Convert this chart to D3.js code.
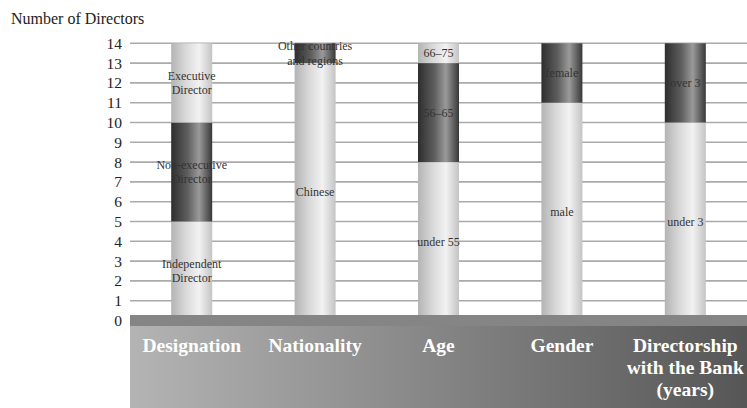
<!DOCTYPE html>
<html lang="en">
<head>
    <meta charset="UTF-8">
    <title>Number of Directors</title>
    <script src="https://d3js.org/d3.v7.min.js"></script>
    <style>
        body { margin: 0; background: #fff; }
        text { font-family: "Liberation Serif", "Times New Roman", serif; }
        .seg-label { font-size: 12px; fill: #333; text-anchor: middle; }
        .tick-label { font-size: 15.5px; fill: #222; text-anchor: end; }
        .cat-label { font-size: 19.5px; font-weight: bold; fill: #fff; text-anchor: middle; }
    </style>
</head>
<body>
    <div id="chart"></div>
    <script>

        // categories along the bottom (multi-line labels split by \n)
        const categories = ["Designation", "Nationality", "Age", "Gender", "Directorship\nwith the Bank\n(years)"];

        // segments for each bar, bottom to top
        const segLabels = [
            ["Independent\nDirector", "Non-executive\nDirector", "Executive\nDirector"],
            ["Chinese", "Other countries\nand regions"],
            ["under 55", "56–65", "66–75"],
            ["male", "female"],
            ["under 3", "over 3"]
        ];
        const segValues = [
            [5, 5, 4],
            [13, 1],
            [8, 5, 1],
            [11, 3],
            [10, 4]
        ];
        // light / dark tone of each segment
        const segTones = [
            ["light", "dark", "light"],
            ["light", "dark"],
            ["light", "dark", "light"],
            ["light", "dark"],
            ["light", "dark"]
        ];

        const yTicks = [0, 1, 2, 3, 4, 5, 6, 7, 8, 9, 10, 11, 12, 13, 14];

        const width = 747, height = 408;
        const left = 130, right = 747;

        const svg = d3.select("#chart")
            .append("svg")
            .attr("width", width)
            .attr("height", height);

        const defs = svg.append("defs");

        // cylinder look on the bars
        const light = defs.append("linearGradient").attr("id", "light");
        [[0, "#b4b4b4"], [0.35, "#d8d8d8"], [0.68, "#f2f2f2"], [1, "#c4c4c4"]].forEach(s =>
            light.append("stop").attr("offset", s[0]).attr("stop-color", s[1]));

        const dark = defs.append("linearGradient").attr("id", "dark");
        [[0, "#2e2e2e"], [0.4, "#5e5e5e"], [0.68, "#9a9a9a"], [1, "#383838"]].forEach(s =>
            dark.append("stop").attr("offset", s[0]).attr("stop-color", s[1]));

        const base = defs.append("linearGradient").attr("id", "base");
        base.append("stop").attr("offset", 0).attr("stop-color", "#b4b4b4");
        base.append("stop").attr("offset", 1).attr("stop-color", "#565656");

        const y = d3.scaleLinear().domain([0, 14]).range([320.5, 43.3]);
        const x = d3.scaleBand().domain(categories).range([left, right]);
        const barW = 41;

        // title
        svg.append("text")
            .attr("x", 11)
            .attr("y", 24)
            .style("font-size", "16px")
            .style("fill", "#222")
            .text("Number of Directors");

        // gridlines + tick labels
        yTicks.forEach(t => {
            svg.append("line")
                .attr("x1", left).attr("x2", right)
                .attr("y1", y(t)).attr("y2", y(t))
                .attr("stroke", "#aaa")
                .attr("stroke-width", 1.6);

            svg.append("text")
                .attr("class", "tick-label")
                .attr("x", 122)
                .attr("y", y(t))
                .attr("dy", "0.35em")
                .text(t);
        });

        // stacked bars
        categories.forEach((c, i) => {
            const bx = x(c) + x.bandwidth() / 2 - barW / 2;
            let acc = 0;
            segValues[i].forEach((v, j) => {
                const y0 = acc, y1 = acc + v;
                acc = y1;
                svg.append("rect")
                    .attr("x", bx)
                    .attr("y", y(y1))
                    .attr("width", barW)
                    .attr("height", y(y0) - y(y1))
                    .attr("fill", `url(#${segTones[i][j]})`);
            });
        });

        // segment labels drawn after bars so they can spill over
        categories.forEach((c, i) => {
            const cx = x(c) + x.bandwidth() / 2;
            let acc = 0;
            segValues[i].forEach((v, j) => {
                const mid = acc + v / 2;
                acc += v;
                const lines = segLabels[i][j].split("\n");
                const t = svg.append("text")
                    .attr("class", "seg-label")
                    .attr("x", cx)
                    .attr("y", y(mid));
                lines.forEach((l, k) => {
                    t.append("tspan")
                        .attr("x", cx)
                        .attr("dy", k === 0 ? `${0.35 - (lines.length - 1) * 0.6}em` : "1.2em")
                        .text(l);
                });
            });
        });

        // base band under the chart
        svg.append("rect")
            .attr("x", left).attr("y", 326)
            .attr("width", right - left).attr("height", height - 326)
            .attr("fill", "url(#base)");
        svg.append("rect")
            .attr("x", left).attr("y", 315)
            .attr("width", right - left).attr("height", 11)
            .attr("fill", "#858585");

        // category labels
        categories.forEach(c => {
            const lines = c.split("\n");
            const cx0 = x(c) + x.bandwidth() / 2;
            const t = svg.append("text")
                .attr("class", "cat-label")
                .attr("y", 352);
            lines.forEach((l, k) => {
                t.append("tspan").attr("x", cx0).attr("dy", k === 0 ? 0 : 22).text(l);
            });
            // keep the text inside the right edge
            const w = t.node().getBBox().width;
            const cx = Math.min(cx0, right - w / 2 - 1);
            t.selectAll("tspan").attr("x", cx);
        });

    </script>
</body>
</html>
